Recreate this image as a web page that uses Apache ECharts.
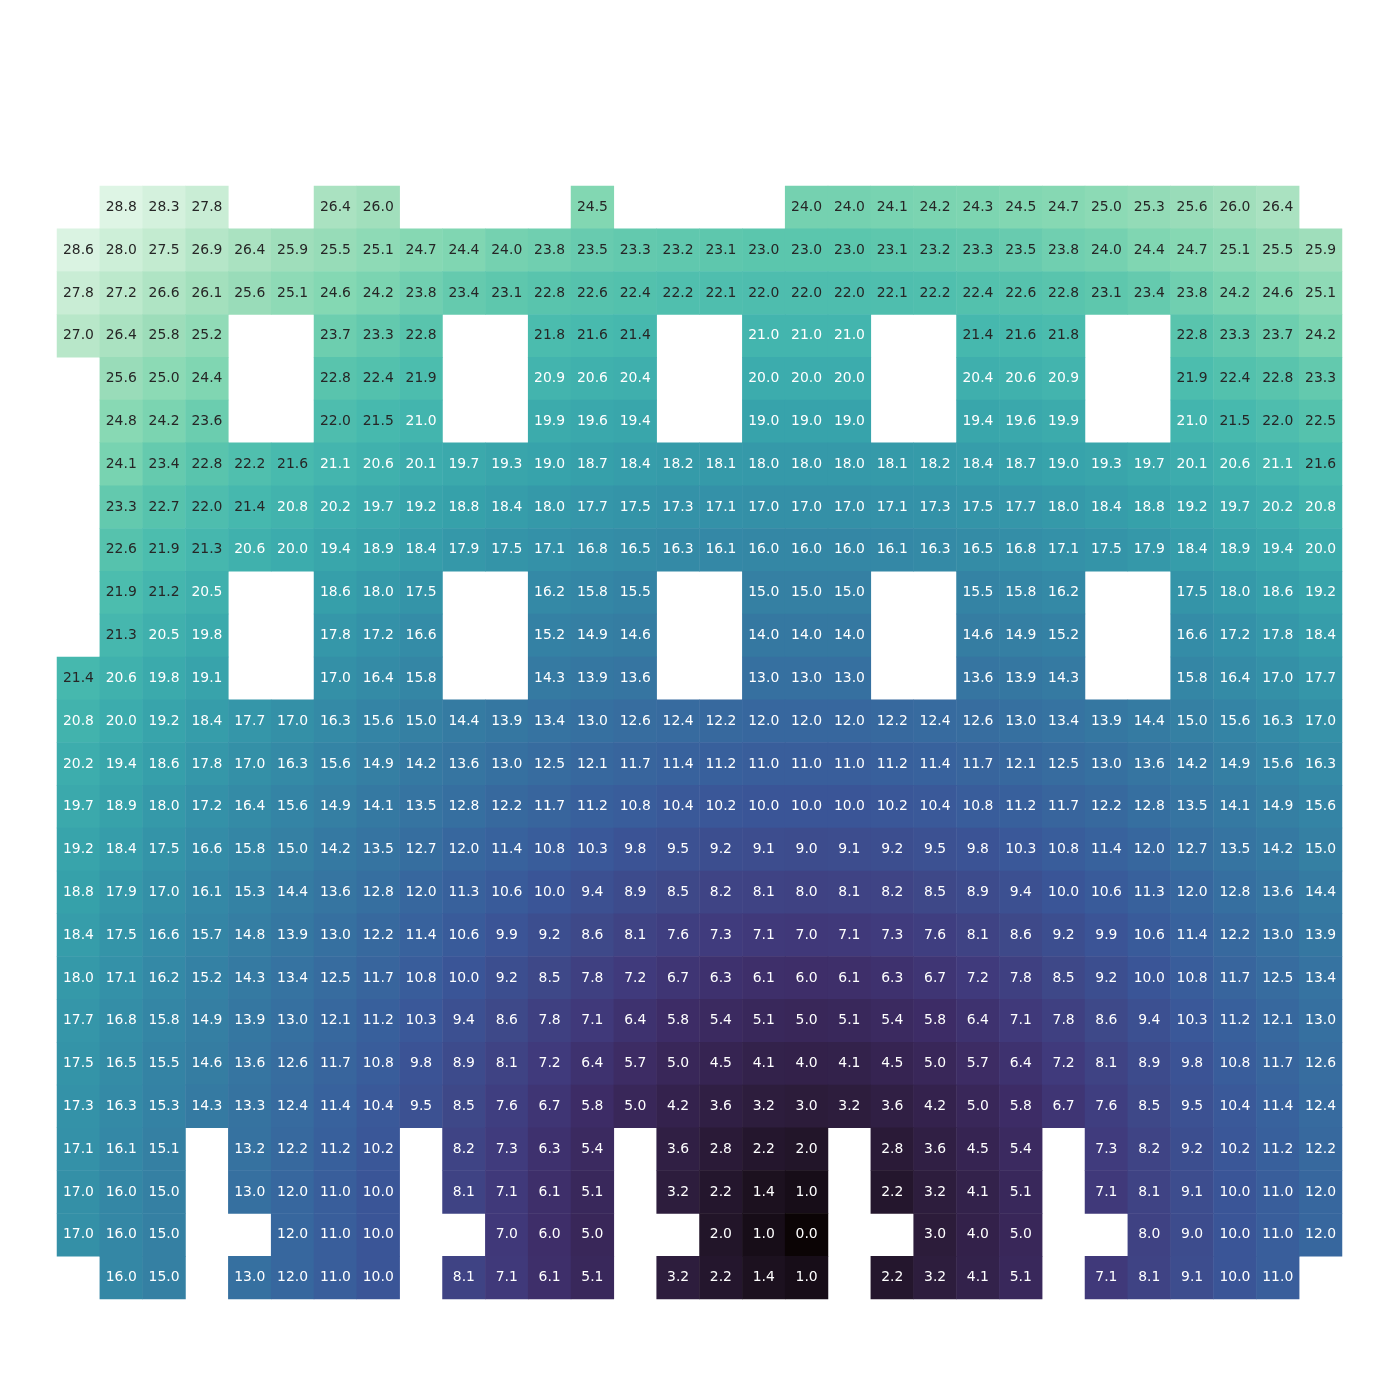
<!DOCTYPE html>
<html>
<head>
<meta charset="utf-8">
<script src="https://cdn.jsdelivr.net/npm/echarts@6/dist/echarts.min.js"></script>
<style>html,body{margin:0;padding:0;background:#fff}#c{width:1400px;height:1400px}</style>
</head>
<body>
<div id="c"></div>
<script>
const N = null;
const columns = Array.from({length: 30}, (_, i) => String(i));
const rows = Array.from({length: 26}, (_, i) => String(i));
const values = [
  [N,28.8,28.3,27.8,N,N,26.4,26.0,N,N,N,N,24.5,N,N,N,N,24.0,24.0,24.1,24.2,24.3,24.5,24.7,25.0,25.3,25.6,26.0,26.4,N],
  [28.6,28.0,27.5,26.9,26.4,25.9,25.5,25.1,24.7,24.4,24.0,23.8,23.5,23.3,23.2,23.1,23.0,23.0,23.0,23.1,23.2,23.3,23.5,23.8,24.0,24.4,24.7,25.1,25.5,25.9],
  [27.8,27.2,26.6,26.1,25.6,25.1,24.6,24.2,23.8,23.4,23.1,22.8,22.6,22.4,22.2,22.1,22.0,22.0,22.0,22.1,22.2,22.4,22.6,22.8,23.1,23.4,23.8,24.2,24.6,25.1],
  [27.0,26.4,25.8,25.2,N,N,23.7,23.3,22.8,N,N,21.8,21.6,21.4,N,N,21.0,21.0,21.0,N,N,21.4,21.6,21.8,N,N,22.8,23.3,23.7,24.2],
  [N,25.6,25.0,24.4,N,N,22.8,22.4,21.9,N,N,20.9,20.6,20.4,N,N,20.0,20.0,20.0,N,N,20.4,20.6,20.9,N,N,21.9,22.4,22.8,23.3],
  [N,24.8,24.2,23.6,N,N,22.0,21.5,21.0,N,N,19.9,19.6,19.4,N,N,19.0,19.0,19.0,N,N,19.4,19.6,19.9,N,N,21.0,21.5,22.0,22.5],
  [N,24.1,23.4,22.8,22.2,21.6,21.1,20.6,20.1,19.7,19.3,19.0,18.7,18.4,18.2,18.1,18.0,18.0,18.0,18.1,18.2,18.4,18.7,19.0,19.3,19.7,20.1,20.6,21.1,21.6],
  [N,23.3,22.7,22.0,21.4,20.8,20.2,19.7,19.2,18.8,18.4,18.0,17.7,17.5,17.3,17.1,17.0,17.0,17.0,17.1,17.3,17.5,17.7,18.0,18.4,18.8,19.2,19.7,20.2,20.8],
  [N,22.6,21.9,21.3,20.6,20.0,19.4,18.9,18.4,17.9,17.5,17.1,16.8,16.5,16.3,16.1,16.0,16.0,16.0,16.1,16.3,16.5,16.8,17.1,17.5,17.9,18.4,18.9,19.4,20.0],
  [N,21.9,21.2,20.5,N,N,18.6,18.0,17.5,N,N,16.2,15.8,15.5,N,N,15.0,15.0,15.0,N,N,15.5,15.8,16.2,N,N,17.5,18.0,18.6,19.2],
  [N,21.3,20.5,19.8,N,N,17.8,17.2,16.6,N,N,15.2,14.9,14.6,N,N,14.0,14.0,14.0,N,N,14.6,14.9,15.2,N,N,16.6,17.2,17.8,18.4],
  [21.4,20.6,19.8,19.1,N,N,17.0,16.4,15.8,N,N,14.3,13.9,13.6,N,N,13.0,13.0,13.0,N,N,13.6,13.9,14.3,N,N,15.8,16.4,17.0,17.7],
  [20.8,20.0,19.2,18.4,17.7,17.0,16.3,15.6,15.0,14.4,13.9,13.4,13.0,12.6,12.4,12.2,12.0,12.0,12.0,12.2,12.4,12.6,13.0,13.4,13.9,14.4,15.0,15.6,16.3,17.0],
  [20.2,19.4,18.6,17.8,17.0,16.3,15.6,14.9,14.2,13.6,13.0,12.5,12.1,11.7,11.4,11.2,11.0,11.0,11.0,11.2,11.4,11.7,12.1,12.5,13.0,13.6,14.2,14.9,15.6,16.3],
  [19.7,18.9,18.0,17.2,16.4,15.6,14.9,14.1,13.5,12.8,12.2,11.7,11.2,10.8,10.4,10.2,10.0,10.0,10.0,10.2,10.4,10.8,11.2,11.7,12.2,12.8,13.5,14.1,14.9,15.6],
  [19.2,18.4,17.5,16.6,15.8,15.0,14.2,13.5,12.7,12.0,11.4,10.8,10.3,9.8,9.5,9.2,9.1,9.0,9.1,9.2,9.5,9.8,10.3,10.8,11.4,12.0,12.7,13.5,14.2,15.0],
  [18.8,17.9,17.0,16.1,15.3,14.4,13.6,12.8,12.0,11.3,10.6,10.0,9.4,8.9,8.5,8.2,8.1,8.0,8.1,8.2,8.5,8.9,9.4,10.0,10.6,11.3,12.0,12.8,13.6,14.4],
  [18.4,17.5,16.6,15.7,14.8,13.9,13.0,12.2,11.4,10.6,9.9,9.2,8.6,8.1,7.6,7.3,7.1,7.0,7.1,7.3,7.6,8.1,8.6,9.2,9.9,10.6,11.4,12.2,13.0,13.9],
  [18.0,17.1,16.2,15.2,14.3,13.4,12.5,11.7,10.8,10.0,9.2,8.5,7.8,7.2,6.7,6.3,6.1,6.0,6.1,6.3,6.7,7.2,7.8,8.5,9.2,10.0,10.8,11.7,12.5,13.4],
  [17.7,16.8,15.8,14.9,13.9,13.0,12.1,11.2,10.3,9.4,8.6,7.8,7.1,6.4,5.8,5.4,5.1,5.0,5.1,5.4,5.8,6.4,7.1,7.8,8.6,9.4,10.3,11.2,12.1,13.0],
  [17.5,16.5,15.5,14.6,13.6,12.6,11.7,10.8,9.8,8.9,8.1,7.2,6.4,5.7,5.0,4.5,4.1,4.0,4.1,4.5,5.0,5.7,6.4,7.2,8.1,8.9,9.8,10.8,11.7,12.6],
  [17.3,16.3,15.3,14.3,13.3,12.4,11.4,10.4,9.5,8.5,7.6,6.7,5.8,5.0,4.2,3.6,3.2,3.0,3.2,3.6,4.2,5.0,5.8,6.7,7.6,8.5,9.5,10.4,11.4,12.4],
  [17.1,16.1,15.1,N,13.2,12.2,11.2,10.2,N,8.2,7.3,6.3,5.4,N,3.6,2.8,2.2,2.0,N,2.8,3.6,4.5,5.4,N,7.3,8.2,9.2,10.2,11.2,12.2],
  [17.0,16.0,15.0,N,13.0,12.0,11.0,10.0,N,8.1,7.1,6.1,5.1,N,3.2,2.2,1.4,1.0,N,2.2,3.2,4.1,5.1,N,7.1,8.1,9.1,10.0,11.0,12.0],
  [17.0,16.0,15.0,N,N,12.0,11.0,10.0,N,N,7.0,6.0,5.0,N,N,2.0,1.0,0.0,N,N,3.0,4.0,5.0,N,N,8.0,9.0,10.0,11.0,12.0],
  [N,16.0,15.0,N,13.0,12.0,11.0,10.0,N,8.1,7.1,6.1,5.1,N,3.2,2.2,1.4,1.0,N,2.2,3.2,4.1,5.1,N,7.1,8.1,9.1,10.0,11.0,N]
];
const valueMin = 0.0;
const valueMax = 28.8;
const makoColors = ['#0B0405','#1C1120','#2B1B38','#35234F','#3D2C65','#403A7C','#3E4989','#3A5698','#38639D','#3670A0','#357BA2','#3486A5','#3492A8','#36A0AA','#3DADAD','#48BAAE','#5CC6AD','#82D7B2','#9FDEBB','#C0EACE','#DEF5E5'];

const data = [];
values.forEach((row, r) => {
  row.forEach((v, c) => {
    if (v === null) return;
    data.push({
      value: [c, r, v],
      label: { color: v >= 21.2 ? '#262626' : '#ffffff' }
    });
  });
});

const chart = echarts.init(document.getElementById('c'));
chart.setOption({
  animation: false,
  backgroundColor: '#ffffff',
  grid: { left: 57, top: 186, width: 1285, height: 1113 },
  xAxis: { type: 'category', data: columns, show: false },
  yAxis: { type: 'category', data: rows, inverse: true, show: false },
  visualMap: {
    show: false, min: valueMin, max: valueMax, dimension: 2,
    inRange: { color: makoColors }
  },
  series: [{
    type: 'heatmap',
    data: data,
    label: {
      show: true,
      fontFamily: 'DejaVu Sans',
      fontSize: 13.9,
      formatter: p => p.value[2].toFixed(1)
    },
    itemStyle: { borderWidth: 0 },
    emphasis: { disabled: true }
  }]
});
</script>
</body>
</html>
